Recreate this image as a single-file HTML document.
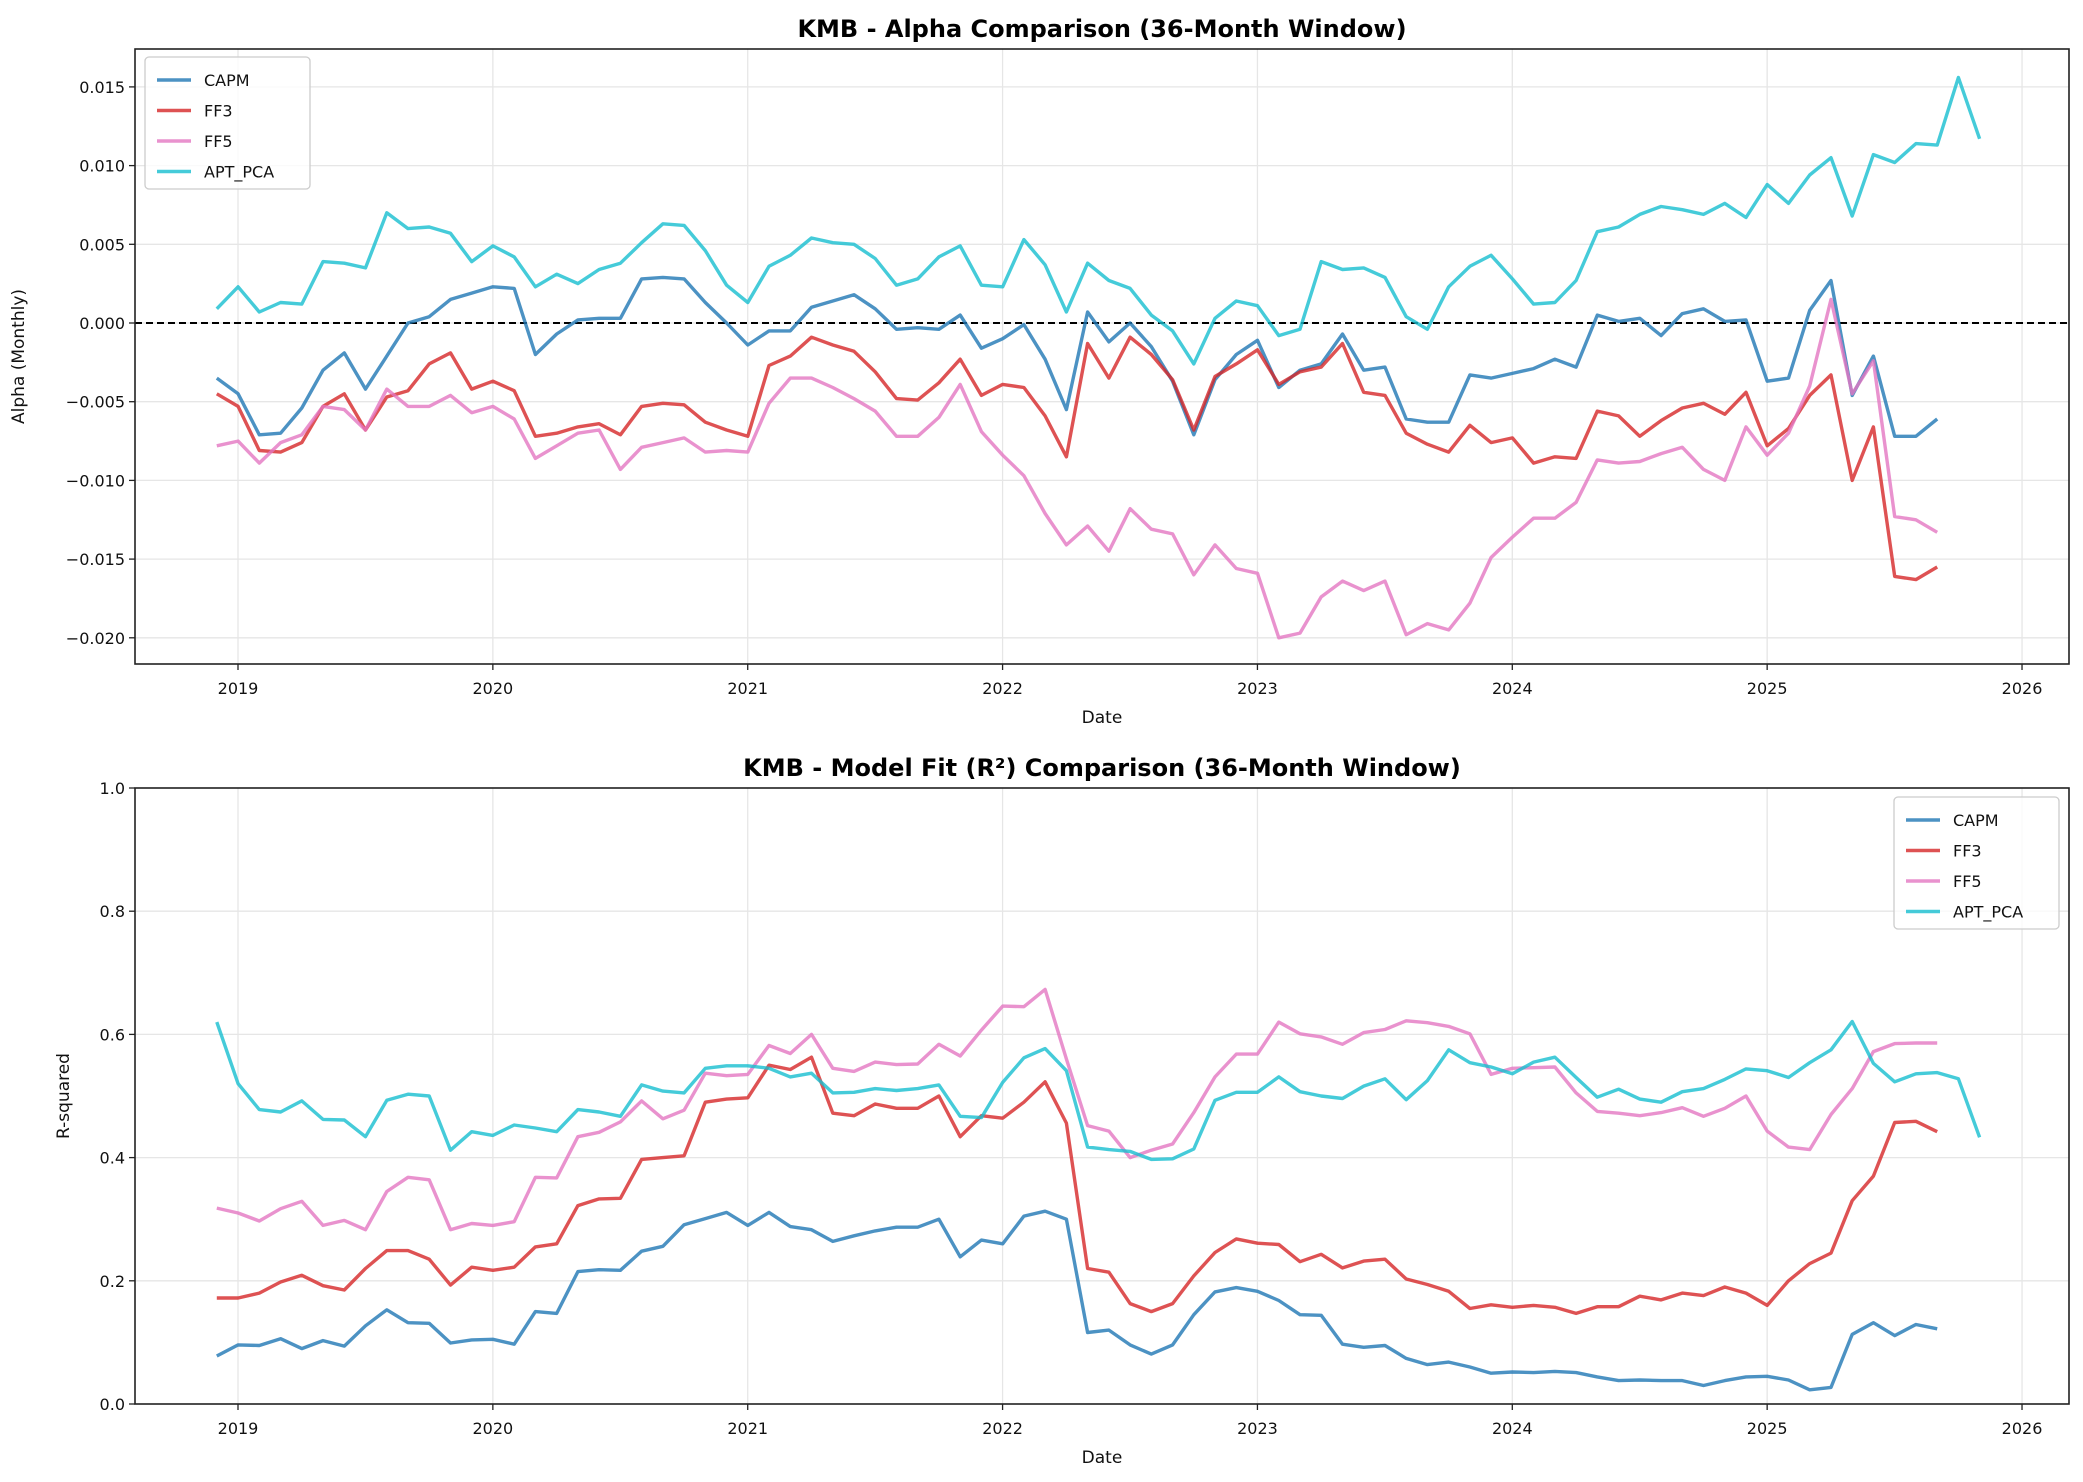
<!DOCTYPE html>
<html><head><meta charset="utf-8"><style>
body{margin:0;background:#fff}
svg{display:block;font-family:"DejaVu Sans","Liberation Sans",sans-serif}
</style></head><body>
<svg id="chart" width="2083" height="1482" viewBox="0 0 2083 1482"></svg>
<script>
const alphaCAPM=[-0.0035,-0.0045,-0.0071,-0.0070,-0.0054,-0.0030,-0.0019,-0.0042,-0.0021,0.0000,0.0004,0.0015,0.0019,0.0023,0.0022,-0.0020,-0.0007,0.0002,0.0003,0.0003,0.0028,0.0029,0.0028,0.0013,0.0000,-0.0014,-0.0005,-0.0005,0.0010,0.0014,0.0018,0.0009,-0.0004,-0.0003,-0.0004,0.0005,-0.0016,-0.0010,-0.0001,-0.0023,-0.0055,0.0007,-0.0012,0.0000,-0.0015,-0.0037,-0.0071,-0.0036,-0.0020,-0.0011,-0.0041,-0.0030,-0.0026,-0.0007,-0.0030,-0.0028,-0.0061,-0.0063,-0.0063,-0.0033,-0.0035,-0.0032,-0.0029,-0.0023,-0.0028,0.0005,0.0001,0.0003,-0.0008,0.0006,0.0009,0.0001,0.0002,-0.0037,-0.0035,0.0008,0.0027,-0.0046,-0.0021,-0.0072,-0.0072,-0.0061];
const alphaFF3=[-0.0045,-0.0053,-0.0081,-0.0082,-0.0076,-0.0053,-0.0045,-0.0068,-0.0047,-0.0043,-0.0026,-0.0019,-0.0042,-0.0037,-0.0043,-0.0072,-0.0070,-0.0066,-0.0064,-0.0071,-0.0053,-0.0051,-0.0052,-0.0063,-0.0068,-0.0072,-0.0027,-0.0021,-0.0009,-0.0014,-0.0018,-0.0031,-0.0048,-0.0049,-0.0038,-0.0023,-0.0046,-0.0039,-0.0041,-0.0059,-0.0085,-0.0013,-0.0035,-0.0009,-0.0020,-0.0036,-0.0068,-0.0034,-0.0026,-0.0017,-0.0039,-0.0031,-0.0028,-0.0013,-0.0044,-0.0046,-0.0070,-0.0077,-0.0082,-0.0065,-0.0076,-0.0073,-0.0089,-0.0085,-0.0086,-0.0056,-0.0059,-0.0072,-0.0062,-0.0054,-0.0051,-0.0058,-0.0044,-0.0078,-0.0067,-0.0046,-0.0033,-0.0100,-0.0066,-0.0161,-0.0163,-0.0155];
const alphaFF5=[-0.0078,-0.0075,-0.0089,-0.0076,-0.0071,-0.0053,-0.0055,-0.0068,-0.0042,-0.0053,-0.0053,-0.0046,-0.0057,-0.0053,-0.0061,-0.0086,-0.0078,-0.0070,-0.0068,-0.0093,-0.0079,-0.0076,-0.0073,-0.0082,-0.0081,-0.0082,-0.0051,-0.0035,-0.0035,-0.0041,-0.0048,-0.0056,-0.0072,-0.0072,-0.0060,-0.0039,-0.0069,-0.0084,-0.0097,-0.0121,-0.0141,-0.0129,-0.0145,-0.0118,-0.0131,-0.0134,-0.0160,-0.0141,-0.0156,-0.0159,-0.0200,-0.0197,-0.0174,-0.0164,-0.0170,-0.0164,-0.0198,-0.0191,-0.0195,-0.0178,-0.0149,-0.0136,-0.0124,-0.0124,-0.0114,-0.0087,-0.0089,-0.0088,-0.0083,-0.0079,-0.0093,-0.0100,-0.0066,-0.0084,-0.0070,-0.0040,0.0015,-0.0045,-0.0024,-0.0123,-0.0125,-0.0133];
const alphaAPT=[0.0009,0.0023,0.0007,0.0013,0.0012,0.0039,0.0038,0.0035,0.0070,0.0060,0.0061,0.0057,0.0039,0.0049,0.0042,0.0023,0.0031,0.0025,0.0034,0.0038,0.0051,0.0063,0.0062,0.0046,0.0024,0.0013,0.0036,0.0043,0.0054,0.0051,0.0050,0.0041,0.0024,0.0028,0.0042,0.0049,0.0024,0.0023,0.0053,0.0037,0.0007,0.0038,0.0027,0.0022,0.0005,-0.0005,-0.0026,0.0003,0.0014,0.0011,-0.0008,-0.0004,0.0039,0.0034,0.0035,0.0029,0.0004,-0.0004,0.0023,0.0036,0.0043,0.0028,0.0012,0.0013,0.0027,0.0058,0.0061,0.0069,0.0074,0.0072,0.0069,0.0076,0.0067,0.0088,0.0076,0.0094,0.0105,0.0068,0.0107,0.0102,0.0114,0.0113,0.0156,0.0117];
const r2CAPM=[0.078,0.096,0.095,0.106,0.090,0.103,0.094,0.127,0.153,0.132,0.131,0.099,0.104,0.105,0.097,0.150,0.147,0.215,0.218,0.217,0.248,0.256,0.291,0.301,0.311,0.290,0.311,0.288,0.283,0.264,0.273,0.281,0.287,0.287,0.300,0.239,0.266,0.260,0.305,0.313,0.300,0.116,0.120,0.096,0.081,0.096,0.145,0.182,0.189,0.183,0.168,0.145,0.144,0.097,0.092,0.095,0.074,0.064,0.068,0.060,0.050,0.052,0.051,0.053,0.051,0.044,0.038,0.039,0.038,0.038,0.030,0.038,0.044,0.045,0.039,0.023,0.027,0.113,0.132,0.111,0.129,0.122];
const r2FF3=[0.172,0.172,0.180,0.198,0.209,0.192,0.185,0.220,0.249,0.249,0.235,0.193,0.222,0.217,0.222,0.255,0.260,0.322,0.333,0.334,0.397,0.400,0.403,0.490,0.495,0.497,0.550,0.543,0.563,0.472,0.468,0.487,0.480,0.480,0.500,0.434,0.468,0.464,0.490,0.523,0.456,0.220,0.214,0.163,0.150,0.163,0.208,0.246,0.268,0.261,0.259,0.231,0.243,0.221,0.232,0.235,0.203,0.194,0.183,0.155,0.161,0.157,0.160,0.157,0.147,0.158,0.158,0.175,0.169,0.180,0.176,0.190,0.180,0.160,0.200,0.228,0.245,0.330,0.370,0.457,0.459,0.442];
const r2FF5=[0.318,0.310,0.297,0.317,0.329,0.290,0.298,0.283,0.345,0.368,0.364,0.283,0.293,0.290,0.296,0.368,0.367,0.434,0.441,0.458,0.492,0.463,0.477,0.537,0.533,0.535,0.582,0.569,0.600,0.545,0.540,0.555,0.551,0.552,0.584,0.565,0.607,0.646,0.645,0.673,0.560,0.452,0.443,0.400,0.412,0.422,0.473,0.531,0.568,0.568,0.620,0.601,0.596,0.584,0.603,0.608,0.622,0.619,0.613,0.601,0.535,0.545,0.546,0.547,0.505,0.475,0.472,0.468,0.473,0.481,0.467,0.480,0.500,0.443,0.417,0.413,0.470,0.512,0.572,0.585,0.586,0.586];
const r2APT=[0.620,0.520,0.478,0.474,0.492,0.462,0.461,0.434,0.493,0.503,0.500,0.412,0.442,0.436,0.453,0.448,0.442,0.478,0.474,0.467,0.518,0.508,0.505,0.545,0.549,0.549,0.545,0.531,0.537,0.505,0.506,0.512,0.509,0.512,0.518,0.467,0.465,0.522,0.562,0.577,0.541,0.417,0.413,0.410,0.397,0.398,0.414,0.493,0.506,0.506,0.531,0.507,0.500,0.496,0.516,0.528,0.494,0.525,0.575,0.554,0.547,0.536,0.555,0.563,0.530,0.498,0.511,0.495,0.490,0.507,0.512,0.527,0.544,0.541,0.530,0.554,0.575,0.621,0.553,0.523,0.536,0.538,0.528,0.433];
const startYear=2018.917;
const yearTicks=[2019,2020,2021,2022,2023,2024,2025,2026];
const alphaTicks=[0.015,0.010,0.005,0.000,-0.005,-0.010,-0.015,-0.020];
const alphaTickLabels=["0.015","0.010","0.005","0.000","\u22120.005","\u22120.010","\u22120.015","\u22120.020"];
const r2Ticks=[0,0.2,0.4,0.6,0.8,1.0];
const r2TickLabels=["0.0","0.2","0.4","0.6","0.8","1.0"];
const seriesNames=["CAPM","FF3","FF5","APT_PCA"];
const colors=["#1f77b4","#d62728","#e377c2","#17becf"];

const NS="http://www.w3.org/2000/svg";
const svg=document.getElementById("chart");
function mk(tag,attrs,parent,txt){const e=document.createElementNS(NS,tag);for(const k in attrs)e.setAttribute(k,attrs[k]);if(txt!==undefined)e.textContent=txt;(parent||svg).appendChild(e);return e;}
const L=135,R=2069;
const xScale=t=>238+(t-2019)*254.86;

function panel(cfg){
  const g=mk("g",{});
  
  
  const yS=cfg.yScale;
  yearTicks.forEach(t=>{const l=mk("line",{x1:xScale(t),x2:xScale(t),y1:cfg.top,y2:cfg.bottom,stroke:"#e6e6e6","stroke-width":1.3},g);
    });
  cfg.ticks.forEach(v=>{const l=mk("line",{x1:L,x2:R,y1:yS(v),y2:yS(v),stroke:"#e6e6e6","stroke-width":1.3},g);
    });
  if(cfg.zero){const z=mk("line",{x1:L,x2:R,y1:yS(0),y2:yS(0),stroke:"#000","stroke-width":2,"stroke-dasharray":"7,4"},g);
    }
  cfg.series.forEach((arr,si)=>{
    const pts=arr.map((v,i)=>xScale(startYear+i/12).toFixed(1)+","+yS(v).toFixed(1)).join(" ");
    const p=mk("polyline",{points:pts,fill:"none",stroke:colors[si],"stroke-width":3.4,"stroke-opacity":0.8,"stroke-linejoin":"round"},g);
    
    
  });
  const f=mk("rect",{x:L,y:cfg.top,width:R-L,height:cfg.bottom-cfg.top,fill:"none",stroke:"#222","stroke-width":1.6},g);
  
  yearTicks.forEach(t=>{const x=xScale(t);
    const tk=mk("line",{x1:x,x2:x,y1:cfg.bottom,y2:cfg.bottom+6,stroke:"#222","stroke-width":1.3},g);
    
    const tx=mk("text",{x:x,y:cfg.bottom+30,"text-anchor":"middle","font-size":16,fill:"#111"},g,String(t));
    });
  cfg.ticks.forEach((v,i)=>{const y=yS(v);
    const tk=mk("line",{x1:L-6,x2:L,y1:y,y2:y,stroke:"#222","stroke-width":1.3},g);
    
    const tx=mk("text",{x:L-10,y:y+6,"text-anchor":"end","font-size":16,fill:"#111"},g,cfg.tickLabels[i]);
    });
  const xt=mk("text",{x:(L+R)/2,y:cfg.bottom+59,"text-anchor":"middle","font-size":17,fill:"#111"},g,"Date");
  
  const cy=(cfg.top+cfg.bottom)/2;
  const yt=mk("text",{x:cfg.ylabelX,y:cy,"text-anchor":"middle","font-size":17,fill:"#111",transform:`rotate(-90 ${cfg.ylabelX} ${cy})`},g,cfg.ylabel);
  
  const tt=mk("text",{x:(L+R)/2,y:cfg.top-12,"text-anchor":"middle","font-size":24,"font-weight":"bold",fill:"#000"},g,cfg.title);
  
  const lg=mk("g",{},g);
  
  const lb=mk("rect",{x:cfg.legX,y:cfg.legY,width:165,height:132,rx:4,fill:"#fff","fill-opacity":0.8,stroke:"#ccc","stroke-width":1.3},lg);
  
  seriesNames.forEach((n,i)=>{const y=cfg.legY+23+i*30.5;
    const e=mk("g",{},lg);
    
    mk("line",{x1:cfg.legX+12,x2:cfg.legX+46,y1:y,y2:y,stroke:colors[i],"stroke-width":3.4,"stroke-opacity":0.8},e);
    mk("text",{x:cfg.legX+59,y:y+6,"font-size":16,fill:"#111"},e,n);});
}
const aTop=49,aBot=664;
panel({name:"alpha-chart",top:aTop,bottom:aBot,yScale:v=>323-v/0.005*78.7,ticks:alphaTicks,tickLabels:alphaTickLabels,
  zero:true,series:[alphaCAPM,alphaFF3,alphaFF5,alphaAPT],title:"KMB - Alpha Comparison (36-Month Window)",ylabel:"Alpha (Monthly)",ylabelX:24,legX:145,legY:57});
const bTop=788,bBot=1404;
panel({name:"r-squared-chart",top:bTop,bottom:bBot,yScale:v=>bBot-v*(bBot-bTop),ticks:r2Ticks,tickLabels:r2TickLabels,
  zero:false,series:[r2CAPM,r2FF3,r2FF5,r2APT],title:"KMB - Model Fit (R\u00B2) Comparison (36-Month Window)",ylabel:"R-squared",ylabelX:69,legX:1894,legY:797});
</script>
</body></html>
